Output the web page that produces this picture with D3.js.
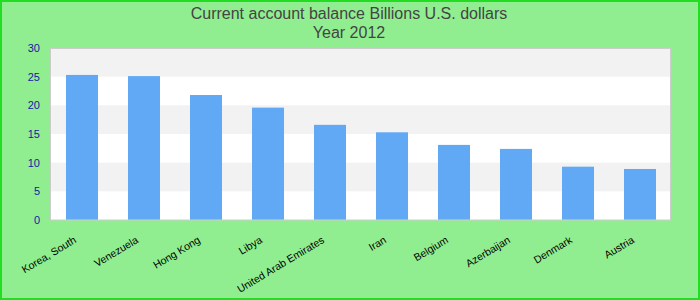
<!DOCTYPE html>
<html><head><meta charset="utf-8">
<script src="https://cdn.jsdelivr.net/npm/d3@7"></script>
<style>body{margin:0;background:#fff}svg{display:block}</style>
</head><body>
<script>
const categories = ["Korea, South","Venezuela","Hong Kong","Libya","United Arab Emirates","Iran","Belgium","Azerbaijan","Denmark","Austria"];
const values = [25.3, 25.1, 21.8, 19.6, 16.6, 15.3, 13.1, 12.4, 9.3, 8.9];
const yTicks = [0,5,10,15,20,25,30];
const titleLines = ["Current account balance Billions U.S. dollars","Year 2012"];

const W = 700, H = 300;
const svg = d3.select("body").append("svg").attr("width", W).attr("height", H);
svg.append("rect").attr("x",1).attr("y",1).attr("width",W-2).attr("height",H-2)
  .attr("fill","#90ee90").attr("stroke","#22dd22").attr("stroke-width",2);

const x = d3.scaleBand().domain(categories).range([51,671]).paddingInner(0.484).paddingOuter(0.242);
const y = d3.scaleLinear().domain([0,30]).range([220,48]);

// plot background
svg.append("rect").attr("x",50).attr("y",48).attr("width",620).attr("height",172).attr("fill","#fff");
const stripes = [[25,30],[15,20],[5,10]];
svg.selectAll("rect.stripe").data(stripes).join("rect").attr("class","stripe")
  .attr("x",50).attr("width",620)
  .attr("y",d=>y(d[1])).attr("height",d=>y(d[0])-y(d[1])).attr("fill","#f2f2f2");

// bars
svg.selectAll("rect.bar").data(values).join("rect").attr("class","bar")
  .attr("x",(d,i)=>x(categories[i])).attr("width",x.bandwidth())
  .attr("y",d=>y(d)).attr("height",d=>y(0)-y(d)).attr("fill","#62a9f5");

// plot border
svg.append("rect").attr("x",50.5).attr("y",48.5).attr("width",620).attr("height",171.5)
  .attr("fill","none").attr("stroke","#cccccc").attr("stroke-width",1);

// y axis
const yAxis = svg.append("g").attr("transform","translate(40,0)")
  .call(d3.axisLeft(y).tickValues(yTicks).tickSize(0).tickPadding(0));
yAxis.select(".domain").remove();
yAxis.selectAll("text").attr("font-family","Liberation Sans, Arial, sans-serif").attr("font-size",11).attr("fill","#1a1aa0");

// x axis labels
const xAxis = svg.append("g").attr("transform","translate(0,220)")
  .call(d3.axisBottom(x).tickSize(0).tickPadding(0));
xAxis.select(".domain").remove();
xAxis.selectAll("text")
  .attr("font-family","Liberation Sans, Arial, sans-serif").attr("font-size",10.5).attr("fill","#000")
  .attr("text-anchor","end").attr("dy",0).attr("y",0)
  .attr("transform","translate(-5,22) rotate(-31)");

// title
svg.selectAll("text.title").data(titleLines).join("text").attr("class","title")
  .attr("x",349).attr("y",(d,i)=>19+i*19).attr("text-anchor","middle")
  .attr("font-family","Liberation Sans, Arial, sans-serif").attr("font-size",16).attr("fill","#444")
  .text(d=>d);
</script>
</body></html>
